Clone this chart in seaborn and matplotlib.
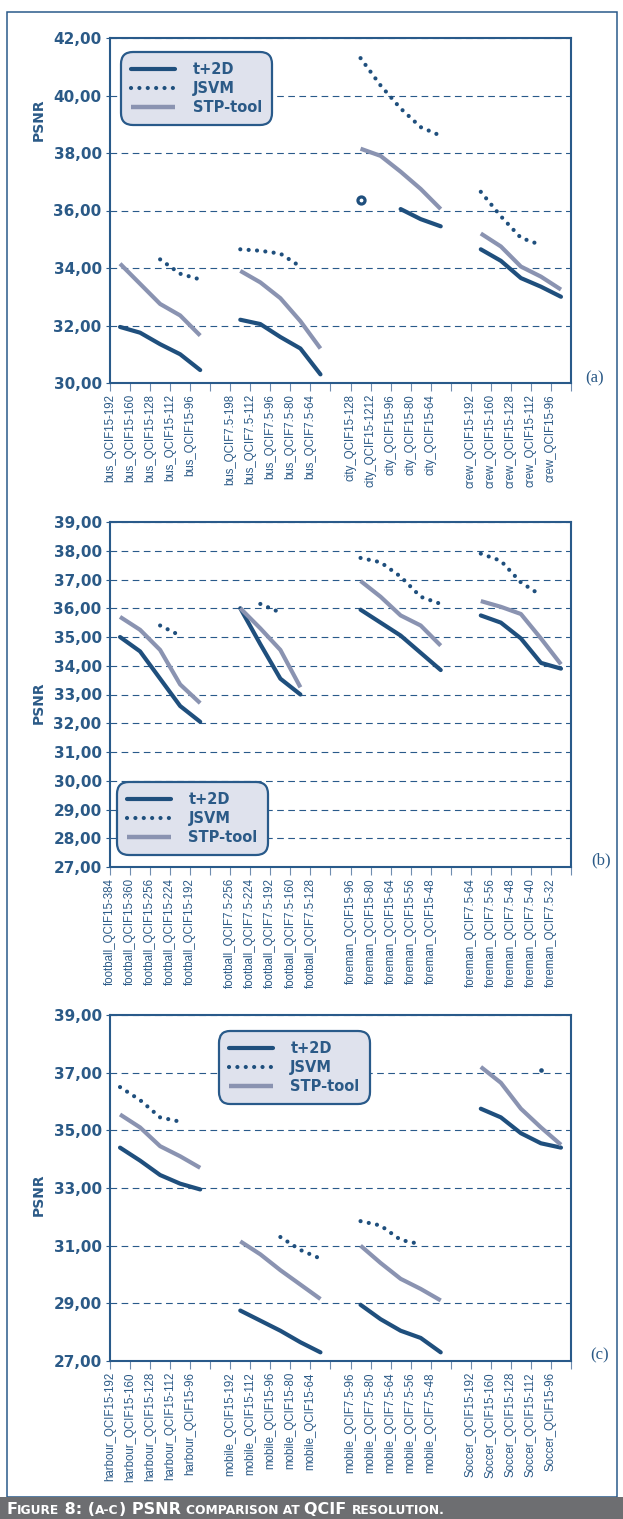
import numpy as np
import pandas as pd
import matplotlib
matplotlib.use("Agg")
import matplotlib.pyplot as plt
import seaborn as sns
from matplotlib.lines import Line2D
from matplotlib.patches import Rectangle
from matplotlib.ticker import FuncFormatter, FixedLocator
from matplotlib.colors import to_hex

nan = np.nan

# ---- data (PSNR) ----
labels_a = ["bus_QCIF15-192", "bus_QCIF15-160", "bus_QCIF15-128", "bus_QCIF15-112", "bus_QCIF15-96",
            "bus_QCIF7.5-198", "bus_QCIF7.5-112", "bus_QCIF7.5-96", "bus_QCIF7.5-80", "bus_QCIF7.5-64",
            "city_QCIF15-128", "city_QCIF15-1212", "city_QCIF15-96", "city_QCIF15-80", "city_QCIF15-64",
            "crew_QCIF15-192", "crew_QCIF15-160", "crew_QCIF15-128", "crew_QCIF15-112", "crew_QCIF15-96"]
t2d_a = [31.95, 31.75, 31.35, 31.0, 30.45, 32.2, 32.05, 31.6, 31.2, 30.3,
         36.35, nan, 36.05, 35.7, 35.45, 34.65, 34.25, 33.65, 33.35, 33.0]
jsvm_a = [nan, nan, 34.3, 33.8, 33.6, 34.65, 34.6, 34.5, 34.05, nan,
          41.3, 40.35, 39.55, 38.9, 38.6, 36.65, 35.8, 35.05, 34.8, nan]
stp_a = [34.15, 33.45, 32.75, 32.35, 31.65, 33.9, 33.5, 32.95, 32.15, 31.2,
         38.15, 37.9, 37.35, 36.75, 36.05, 35.2, 34.75, 34.05, 33.7, 33.25]

labels_b = ["football_QCIF15-384", "football_QCIF15-360", "football_QCIF15-256", "football_QCIF15-224", "football_QCIF15-192",
            "football_QCIF7.5-256", "football_QCIF7.5-224", "football_QCIF7.5-192", "football_QCIF7.5-160", "football_QCIF7.5-128",
            "foreman_QCIF15-96", "foreman_QCIF15-80", "foreman_QCIF15-64", "foreman_QCIF15-56", "foreman_QCIF15-48",
            "foreman_QCIF7.5-64", "foreman_QCIF7.5-56", "foreman_QCIF7.5-48", "foreman_QCIF7.5-40", "foreman_QCIF7.5-32"]
t2d_b = [35.0, 34.5, 33.55, 32.6, 32.05, 36.0, 34.75, 33.55, 33.0, nan,
         35.95, 35.5, 35.05, 34.45, 33.85, 35.75, 35.5, 34.95, 34.1, 33.9]
jsvm_b = [nan, nan, 35.4, 35.05, nan, nan, 36.15, 35.85, nan, nan,
          37.75, 37.6, 37.1, 36.4, 36.15, 37.9, 37.65, 36.9, 36.45, nan]
stp_b = [35.7, 35.25, 34.55, 33.35, 32.7, 36.0, 35.3, 34.55, 33.25, nan,
         36.95, 36.4, 35.75, 35.4, 34.7, 36.25, 36.05, 35.8, 34.95, 34.05]

labels_c = ["harbour_QCIF15-192", "harbour_QCIF15-160", "harbour_QCIF15-128", "harbour_QCIF15-112", "harbour_QCIF15-96",
            "mobile_QCIF15-192", "mobile_QCIF15-112", "mobile_QCIF15-96", "mobile_QCIF15-80", "mobile_QCIF15-64",
            "mobile_QCIF7.5-96", "mobile_QCIF7.5-80", "mobile_QCIF7.5-64", "mobile_QCIF7.5-56", "mobile_QCIF7.5-48",
            "Soccer_QCIF15-192", "Soccer_QCIF15-160", "Soccer_QCIF15-128", "Soccer_QCIF15-112", "Soccer_QCIF15-96"]
t2d_c = [34.4, 33.95, 33.45, 33.15, 32.95, 28.75, 28.4, 28.05, 27.65, 27.3,
         28.95, 28.45, 28.05, 27.8, 27.3, 35.75, 35.45, 34.9, 34.55, 34.4]
jsvm_c = [36.5, 36.05, 35.45, 35.3, nan, nan, nan, 31.3, 30.85, 30.55,
          31.85, 31.7, 31.2, 31.05, nan, nan, nan, nan, 37.1, nan]
stp_c = [35.55, 35.1, 34.45, 34.1, 33.7, 31.15, 30.7, 30.15, 29.65, 29.15,
         31.0, 30.4, 29.85, 29.5, 29.1, 37.2, 36.65, 35.75, 35.1, 34.5]

series_order = ["t+2D", "JSVM", "STP-tool"]

# ---- style ----
DARK = "#1f4f7d"
STP = "#8a93b1"
TXT = "#2b5a87"
SPINE = "#295a8a"
palette = {"t+2D": DARK, "JSVM": DARK, "STP-tool": STP}
dash_map = {"t+2D": "", "JSVM": (0.01, 2.0), "STP-tool": ""}

sns.set_theme(style="white")
plt.rcParams["font.family"] = ["DejaVu Sans"]

W, H = 623, 1519
fig = plt.figure(figsize=(W / 100, H / 100), dpi=100)


def to_long(labels, t2d, jsvm, stp):
    frames = []
    for name, vals in zip(series_order, (t2d, jsvm, stp)):
        d = pd.DataFrame({"label": labels, "psnr": vals})
        d["series"] = name
        d["group"] = d.index // 5
        d["slot"] = d["group"] * 6 + d.index % 5 + 0.5
        d["run"] = d["group"].astype(str) + "-" + d["psnr"].isna().cumsum().astype(str)
        frames.append(d.dropna(subset=["psnr"]))
    out = pd.concat(frames, ignore_index=True)
    out["n"] = out.groupby(["series", "run"])["psnr"].transform("size")
    return out


def px_rect(left, top, right, bottom):
    return [left / W, 1 - bottom / H, (right - left) / W, (bottom - top) / H]


panels = [
    dict(labels=labels_a, t2d=t2d_a, jsvm=jsvm_a, stp=stp_a, box=(110, 38, 571, 383),
         ylim=(30, 42), step=2, tag="(a)", tagpos=(1.052, 0.012), psnr_y=120,
         leg=("upper left", (0.024, 0.959))),
    dict(labels=labels_b, t2d=t2d_b, jsvm=jsvm_b, stp=stp_b, box=(110, 522, 571, 867),
         ylim=(27, 39), step=1, tag="(b)", tagpos=(1.065, 0.02), psnr_y=703,
         leg=("lower left", (0.015, 0.035))),
    dict(labels=labels_c, t2d=t2d_c, jsvm=jsvm_c, stp=stp_c, box=(110, 1015, 571, 1361),
         ylim=(27, 39), step=2, tag="(c)", tagpos=(1.063, 0.017), psnr_y=1195,
         leg=("upper left", (0.236, 0.954))),
]

for p in panels:
    ax = fig.add_axes(px_rect(*p["box"]))
    df = to_long(p["labels"], p["t2d"], p["jsvm"], p["stp"])
    lines = df[df["n"] > 1]
    iso = df[df["n"] == 1]

    sns.lineplot(data=lines, x="slot", y="psnr", hue="series", style="series",
                 units="run", estimator=None, hue_order=series_order,
                 style_order=series_order, palette=palette, dashes=dash_map,
                 linewidth=3, legend=False, ax=ax)
    for ln in ax.lines:
        ln.set_dash_capstyle("round")
        ln.set_solid_capstyle("butt" if to_hex(ln.get_color()) == STP else "round")

    ring = iso[iso["series"] == "t+2D"]
    if len(ring):
        sns.scatterplot(data=ring, x="slot", y="psnr", s=26, color="white",
                        edgecolor=DARK, linewidth=2.3, ax=ax, zorder=4, legend=False)
    dot = iso[iso["series"] == "JSVM"]
    if len(dot):
        sns.scatterplot(data=dot, x="slot", y="psnr", s=11, color=DARK,
                        linewidth=0, ax=ax, zorder=4, legend=False)

    lo, hi = p["ylim"]
    ax.set_xlim(0, 23)
    ax.set_ylim(lo, hi)
    ax.yaxis.set_major_locator(FixedLocator(np.arange(lo, hi + 0.01, p["step"])))
    ax.yaxis.set_major_formatter(FuncFormatter(lambda v, _: f"{v:.2f}".replace(".", ",")))
    ticklabels = []
    for k in range(24):
        g, j = divmod(k, 6)
        ticklabels.append(p["labels"][g * 5 + j] if j < 5 and g < 4 else "")
    ax.set_xticks(range(24))
    ax.set_xticklabels(ticklabels, rotation=90, va="top", ha="center",
                       family="Liberation Sans", fontsize=8.3, color=TXT)
    for t in ax.get_yticklabels():
        t.set_fontweight("bold")
        t.set_fontsize(11)
        t.set_color(TXT)
    ax.tick_params(axis="x", direction="out", length=6, width=0.8, color="#6f8db0", pad=2,
                   bottom=True)
    ax.tick_params(axis="y", direction="out", length=3, width=0.8, color=SPINE, pad=3, left=True)
    ax.set_xlabel("")
    ax.set_ylabel("")

    ax.yaxis.grid(True, color=SPINE, linewidth=0.8, linestyle=(0, (6, 4)))
    ax.xaxis.grid(False)
    ax.set_axisbelow(True)
    for s in ax.spines.values():
        s.set_visible(True)
        s.set_color(SPINE)
        s.set_linewidth(1.5)

    handles = [Line2D([], [], color=DARK, lw=3, solid_capstyle="round"),
               Line2D([], [], color=DARK, lw=3, dashes=(0.01, 2.0), dash_capstyle="round"),
               Line2D([], [], color=STP, lw=3.2, solid_capstyle="butt")]
    loc, anchor = p["leg"]
    leg = ax.legend(handles, series_order, loc=loc, bbox_to_anchor=anchor, borderaxespad=0,
                    prop=dict(weight="bold", size=10.5), labelcolor=TXT,
                    handlelength=3.0, handletextpad=1.2, borderpad=0.7, labelspacing=0.26,
                    frameon=True, framealpha=1, fancybox=True)
    fr = leg.get_frame()
    fr.set_facecolor("#dfe2ed")
    fr.set_edgecolor(SPINE)
    fr.set_linewidth(1.6)
    fr.set_boxstyle("round", pad=0, rounding_size=0.8)
    leg.set_zorder(5)

    ax.text(p["tagpos"][0], p["tagpos"][1], p["tag"], transform=ax.transAxes,
            family="Liberation Serif", fontsize=12, color=TXT, ha="center", va="center")
    fig.text(39 / W, 1 - p["psnr_y"] / H, "PSNR", rotation=90, ha="center", va="center",
             fontweight="bold", fontsize=10, color=TXT)

# outer frame and caption bar
fig.patches.append(Rectangle((7 / W, 1 - 1497 / H), (617 - 7) / W, (1497 - 12) / H,
                             transform=fig.transFigure, fill=False, edgecolor=SPINE, lw=1.1))
fig.patches.append(Rectangle((0, 0), 1, 22 / H, transform=fig.transFigure,
                             facecolor="#6d6e71", edgecolor="none"))

caption = [("F", True), ("IGURE", False), (" 8: (", True), ("A-C", False), (") PSNR ", True),
           ("COMPARISON AT ", False), ("QCIF ", True), ("RESOLUTION.", False)]
renderer = fig.canvas.get_renderer()
x = 6.0
for txt, big in caption:
    t = fig.text(x / W, 5 / H, txt, fontsize=11.5 if big else 8.8, color="white",
                 fontweight="semibold", family="DejaVu Sans", ha="left", va="baseline")
    x += t.get_window_extent(renderer=renderer).width

fig.savefig("out.png", dpi=100)
